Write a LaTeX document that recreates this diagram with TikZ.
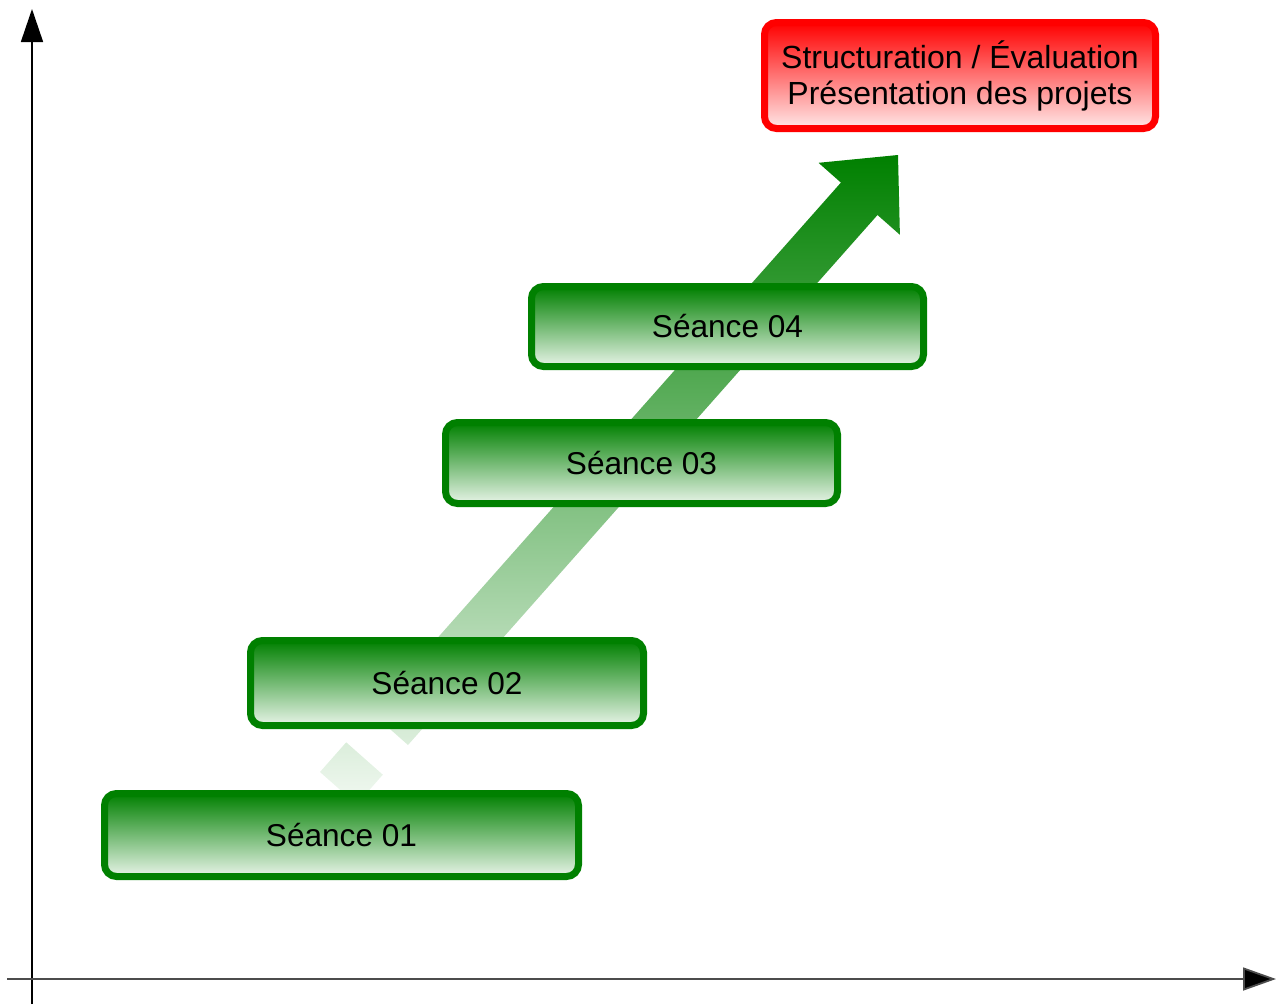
\documentclass[tikz,border=0pt]{standalone}
\usepackage{fontspec}
\setmainfont{Liberation Sans}
\usetikzlibrary{arrows.meta}
\definecolor{dgreen}{RGB}{0,128,0}
\definecolor{lgreen}{RGB}{232,244,232}
\definecolor{agreenlow}{RGB}{242,249,242}
\definecolor{dred}{RGB}{255,0,0}
\definecolor{lred}{RGB}{255,232,232}
\tikzset{
  seance/.style={rectangle, rounded corners=12pt, line width=7pt, draw=dgreen,
    top color=dgreen, bottom color=lgreen, text=black,
    font=\fontsize{31.6}{36}\selectfont, inner sep=0pt},
  goal/.style={rectangle, rounded corners=12pt, line width=7pt, draw=dred,
    top color=dred, bottom color=lred, text=black, align=center,
    font=\fontsize{32}{36}\selectfont, inner sep=0pt},
  axis/.style={line width=1.6pt, -{Triangle[length=33pt,width=22pt]}},
  bigarrow/.style={top color=dgreen, bottom color=agreenlow, draw=none}
}
\begin{document}
\begin{tikzpicture}[x=1pt,y=-1pt]
\useasboundingbox (0,0) rectangle (1277,1004);
% axes
\coordinate (ybot) at (32,1004);
\coordinate (ytop) at (32,9);
\coordinate (xleft) at (7,979);
\coordinate (xright) at (1276,979);
\draw[axis, black] (ybot) -- (ytop);
\draw[axis, black!70, line width=1.8pt, -{Triangle[length=33pt,width=23pt,fill=black]}] (xleft) -- (xright);
% big progress arrow
\path[bigarrow]
  (371.4,712.6) -- (840.9,182.6) -- (818.5,162.8) -- (898,155) -- (899.9,234.8)
  -- (877.5,215.0) -- (408,745) -- cycle
  (346.2,742.3) -- (382.8,774.7) -- (356.6,804.4) -- (320,772) -- cycle;
% boxes
\node[seance, minimum width=474pt, minimum height=83pt] (s1) at (341.5,835) {Séance 01};
\node[seance, minimum width=393pt, minimum height=85pt] (s2) at (447,683) {Séance 02};
\node[seance, minimum width=392pt, minimum height=81pt] (s3) at (641.5,463) {Séance 03};
\node[seance, minimum width=392pt, minimum height=80pt] (s4) at (727.5,326.5) {Séance 04};
\node[goal, minimum width=391pt, minimum height=106pt] (g) at (960,75.5) {\raisebox{-2pt}{Structuration / Évaluation}\\\raisebox{-2pt}{Présentation des projets}};
\end{tikzpicture}
\end{document}
